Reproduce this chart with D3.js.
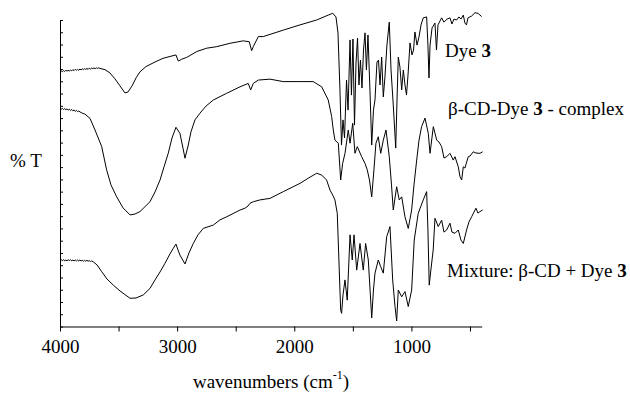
<!DOCTYPE html>
<html>
<head>
<meta charset="utf-8">
<script src="https://cdn.jsdelivr.net/npm/d3@7"></script>
<style>
  html, body { margin: 0; padding: 0; background: #fff; }
  svg text { font-family: "Liberation Serif", "Times New Roman", serif; fill: #000; }
</style>
</head>
<body>
<svg id="chart" width="630" height="393"></svg>
<script>
// --- data: [wavenumber (cm-1), %T offset] ---
const dye3 = [
  [4000, 83.1], [3990, 83.4], [3980, 83.1], [3970, 83.5], [3960, 83.2], [3950, 83.6],
  [3940, 83.3], [3930, 83.6], [3920, 83.3], [3910, 83.7], [3900, 83.4], [3890, 83.8],
  [3880, 83.5], [3870, 83.9], [3860, 83.6], [3850, 83.9], [3840, 83.6], [3830, 84.0],
  [3820, 83.7], [3810, 84.1], [3800, 83.8], [3790, 84.1], [3780, 83.9], [3770, 84.2],
  [3760, 83.9], [3750, 84.3], [3740, 84.0], [3730, 84.3], [3720, 84.1], [3710, 84.4],
  [3700, 84.1], [3690, 84.4], [3680, 84.2], [3670, 84.4], [3659, 84.2],
  [3616, 83.8], [3573, 82.7], [3531, 80.8], [3488, 78.5], [3445, 76.2], [3420, 76.5],
  [3385, 78.5], [3351, 81.1], [3317, 83.1], [3266, 84.8], [3189, 86.3], [3121, 87.5],
  [3061, 88.1], [3010, 88.6], [2990, 86.6], [2961, 87.2], [2918, 87.8], [2833, 89.7],
  [2748, 90.8], [2662, 91.3], [2549, 92.4], [2435, 93.2], [2384, 92.9], [2364, 90.0],
  [2350, 91.3], [2307, 94.6], [2264, 94.6], [2094, 96.7], [1951, 98.4], [1809, 100],
  [1710, 101.6], [1672, 102.2], [1644, 101], [1627, 95.8], [1610, 77.2], [1597, 59.2],
  [1584, 67.4], [1571, 61.5], [1554, 80.4], [1541, 70.6], [1524, 93.5], [1512, 75.5],
  [1499, 93.8], [1486, 65.7], [1473, 86.0], [1460, 94.1], [1448, 78.8], [1435, 86.9],
  [1422, 77.8], [1409, 90.2], [1396, 95.8], [1384, 83.7], [1371, 95.1], [1354, 77.2],
  [1339, 59.2], [1324, 70.6], [1311, 73.9], [1294, 86.3], [1281, 86.9], [1268, 78.8],
  [1254, 87.9], [1240, 74.9], [1226, 81.4], [1209, 91.8], [1189, 99.3], [1174, 83.7],
  [1155, 72.3], [1134, 58.2], [1123, 73.9], [1112, 87.9], [1098, 84.7], [1083, 77.2],
  [1069, 83.7], [1055, 78.8], [1042, 75.5], [1029, 82.1], [1012, 92.5], [995, 88.6],
  [982, 90.2], [970, 96.1], [952, 91.8], [935, 94.5], [918, 98.4], [899, 100.7],
  [870, 101], [859, 91.8], [850, 81.1], [841, 91.8], [824, 97.4], [799, 99],
  [786, 90.2], [773, 98.4], [742, 100.7], [722, 99.3], [696, 100.3], [671, 100.7],
  [654, 98.7], [637, 100.3], [614, 100], [594, 101], [577, 100.3], [557, 101.6],
  [543, 99], [530, 98.4], [517, 100.7], [486, 101.3], [457, 102.4], [429, 102.1],
  [400, 101.1]
];

const complex = [
  [4000, 71.2], [3990, 70.9], [3980, 71.2], [3970, 70.8], [3960, 71.1], [3950, 70.7],
  [3940, 71.0], [3930, 70.6], [3920, 70.9], [3910, 70.5], [3900, 70.8], [3890, 70.4],
  [3880, 70.6], [3870, 70.2], [3860, 70.5], [3850, 70.1], [3840, 70.3], [3829, 70.0],
  [3810, 69.6], [3787, 69.3], [3744, 67.9], [3701, 64.1], [3644, 58.7], [3602, 51.1],
  [3565, 46.2], [3516, 42.3], [3462, 38.7], [3402, 36.4], [3360, 36.7], [3317, 37.5],
  [3232, 40.7], [3189, 43.9], [3146, 47.8], [3112, 52.1], [3076, 56.5], [3044, 61.5],
  [3010, 65.0], [2976, 63.0], [2950, 58.2], [2933, 54.9], [2905, 59.2], [2882, 63.5],
  [2848, 67.4], [2805, 69.6], [2754, 71.9], [2691, 73.9], [2577, 76.1], [2463, 78.2],
  [2393, 79.3], [2372, 77.2], [2350, 79.3], [2307, 80.4], [2207, 80.7], [2094, 79.9],
  [1951, 79.9], [1838, 79.9], [1766, 78.2], [1710, 73.9], [1681, 68.5], [1667, 64.1],
  [1653, 60.8], [1624, 59.8], [1604, 47.8], [1587, 53.2], [1567, 56.5], [1539, 64.1],
  [1524, 59.8], [1501, 66.3], [1482, 56.5], [1462, 58.7], [1425, 55.4], [1396, 53.2],
  [1377, 51.1], [1358, 47.8], [1339, 42.3], [1320, 51.1], [1303, 59.8], [1283, 61.9],
  [1262, 56.5], [1240, 60.8], [1217, 64.1], [1189, 55.4], [1170, 46.2], [1155, 38.0],
  [1126, 45.6], [1104, 41.3], [1083, 42.3], [1055, 35.8], [1027, 32.0], [998, 38.0],
  [978, 46.2], [955, 54.3], [935, 60.8], [913, 65.2], [884, 68.0], [856, 63.0],
  [841, 56.5], [813, 65.2], [784, 60.8], [765, 60.2], [742, 58.7], [722, 55.0],
  [699, 55.4], [671, 56.5], [643, 54.3], [628, 55.4], [600, 52.1], [585, 48.9],
  [571, 47.8], [557, 52.1], [543, 51.7], [515, 55.4], [500, 55.6], [472, 57.0],
  [449, 56.6], [415, 56.5], [392, 57.0]
];

const mixture = [
  [4000, 21.5], [3990, 21.8], [3980, 21.5], [3970, 21.8], [3960, 21.4], [3950, 21.7],
  [3940, 21.4], [3930, 21.8], [3920, 21.5], [3910, 21.8], [3900, 21.4], [3890, 21.7],
  [3880, 21.4], [3870, 21.7], [3860, 21.4], [3850, 21.7], [3840, 21.4], [3830, 21.7],
  [3820, 21.4], [3810, 21.6], [3800, 21.3], [3790, 21.6], [3780, 21.3], [3770, 21.6],
  [3760, 21.3], [3750, 21.5], [3740, 21.2], [3730, 21.4], [3716, 21.1], [3684, 20.1],
  [3644, 17.9], [3599, 15.5], [3545, 13.5],
  [3488, 11.6], [3402, 9.2], [3351, 9.3], [3289, 10.3], [3232, 12.4], [3189, 15.2],
  [3146, 17.8], [3104, 20.6], [3061, 23.7], [3033, 25.5], [3010, 26.9], [2993, 25.0],
  [2976, 23.3], [2933, 20.4], [2899, 24.0], [2862, 27.1], [2822, 29.9], [2777, 32.0],
  [2691, 33.1], [2634, 34.8], [2577, 35.8], [2463, 38.0], [2421, 38.6], [2395, 39.3],
  [2378, 40.2], [2350, 40.7], [2293, 41.3], [2207, 41.8], [2094, 44.0], [1951, 46.7],
  [1880, 48.4], [1809, 50.0], [1766, 49.4], [1724, 47.8], [1695, 44.5], [1672, 42.9],
  [1653, 41.3], [1633, 36.9], [1616, 18.4], [1604, 5.4], [1596, 4.3], [1584, 10.3],
  [1567, 15.2], [1548, 8.6], [1524, 29.9], [1505, 21.7], [1490, 29.9], [1467, 18.4],
  [1439, 27.1], [1411, 18.4], [1391, 27.1], [1368, 21.7], [1339, 2.8], [1324, 11.9],
  [1311, 17.4], [1283, 21.7], [1262, 19.5], [1240, 17.4], [1211, 29.3], [1183, 32.6],
  [1160, 15.2], [1140, 6.5], [1126, 1.8], [1112, 11.9], [1083, 9.7], [1055, 11.4],
  [1027, 6.5], [998, 11.9], [976, 28.2], [942, 36.9], [899, 41.3], [870, 44.0],
  [859, 31.5], [848, 13.5], [834, 18.4], [814, 25.0], [799, 35.3], [771, 32.6],
  [742, 34.7], [722, 30.8], [699, 31.5], [671, 33.7], [654, 30.8], [628, 30.4],
  [600, 31.5], [577, 28.2], [557, 27.1], [529, 31.5], [509, 34.1], [486, 35.8],
  [449, 38.6], [432, 37.0], [415, 37.5], [392, 38.0]
];

const xTicks = [4000, 3500, 3000, 2500, 2000, 1500, 1000, 500];
const xTickLabels = ['4000', '', '3000', '', '2000', '', '1000', ''];
const yTicks = d3.range(0, 101, 4);

// --- chart ---
const svg = d3.select('#chart');

const x = d3.scaleLinear()
  .domain([4000, 400])
  .range([60, 481.7]);

const y = d3.scaleLinear()
  .domain([0, 100])
  .range([326.5, 20]);

const xAxis = d3.axisBottom(x)
  .tickValues(xTicks)
  .tickFormat((d, i) => xTickLabels[i])
  .tickSizeInner(5)
  .tickSizeOuter(0)
  .tickPadding(8);

const yAxis = d3.axisLeft(y)
  .tickValues(yTicks)
  .tickFormat('')
  .tickSizeInner(-3)
  .tickSizeOuter(0);

const gx = svg.append('g')
  .attr('transform', 'translate(0,' + y(0) + ')')
  .call(xAxis);
gx.selectAll('text')
  .style('font-size', '19px')
  .style('font-family', '"Liberation Serif", serif');

svg.append('g')
  .attr('transform', 'translate(' + x(4000) + ',0)')
  .call(yAxis);

svg.selectAll('.domain, .tick line')
  .attr('stroke', '#000')
  .attr('stroke-width', 1);

const line = d3.line()
  .x(d => x(d[0]))
  .y(d => y(d[1]));

[dye3, complex, mixture].forEach(series => {
  svg.append('path')
    .datum(series)
    .attr('fill', 'none')
    .attr('stroke', '#000')
    .attr('stroke-width', 1)
    .attr('stroke-linejoin', 'round')
    .attr('d', line);
});

// labels
const lab = svg.append('g').style('font-size', '19px');

const t1 = lab.append('text').attr('x', 445).attr('y', 57);
t1.append('tspan').text('Dye ');
t1.append('tspan').attr('font-weight', 'bold').text('3');

const t2 = lab.append('text').attr('x', 448).attr('y', 115);
t2.append('tspan').text('\u03B2-CD-Dye ');
t2.append('tspan').attr('font-weight', 'bold').text('3');
t2.append('tspan').text(' - complex');

const t3 = lab.append('text').attr('x', 447).attr('y', 277);
t3.append('tspan').text('Mixture: \u03B2-CD + Dye ');
t3.append('tspan').attr('font-weight', 'bold').text('3');

lab.append('text').attr('x', 10).attr('y', 167).text('% T');

const xl = lab.append('text')
  .attr('x', 271)
  .attr('y', 388)
  .attr('text-anchor', 'middle');
xl.append('tspan').text('wavenumbers (cm');
xl.append('tspan').attr('dy', -9).style('font-size', '12px').text('-1');
xl.append('tspan').attr('dy', 9).text(')');
</script>
</body>
</html>
